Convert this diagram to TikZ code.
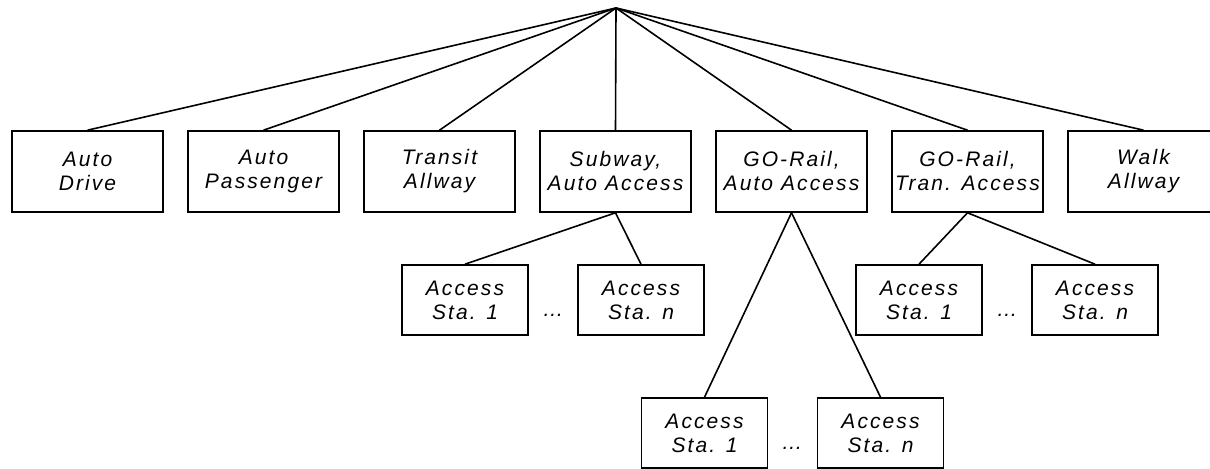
\documentclass[tikz,border=0pt]{standalone}
\usepackage{fontspec}
\setmainfont{Liberation Sans}[LetterSpace=10]
\usetikzlibrary{positioning}
\tikzset{
  box_font/.style = {font=\fontsize{10.5}{12}\selectfont\itshape},
  mode_box/.style = {box_font, draw, line width=0.8pt, align=center, minimum width=75.5pt, minimum height=40.5pt, inner sep=0},
  sta_box/.style = {box_font, draw, line width=0.8pt, align=center, minimum width=63pt, minimum height=35pt, inner sep=0},
  dots/.style = {box_font, inner sep=0},
  link/.style = {line width=0.8pt}
}
\begin{document}
\begin{tikzpicture}[x=0.5pt, y=0.5pt, node distance=11.7pt]
        \useasboundingbox (0,0) rectangle (1210,469);

        % Root
        \coordinate (root) at (616,461);

        % Modes
        \node[mode_box] (drive) at (87.5,297.5) {
            Auto\\Drive};
        \node[mode_box, right=of drive] (pass) {
            Auto\\Passenger};
        \node[mode_box, right=of pass] (transit) {
            Transit\\Allway};
        \node[mode_box, right=of transit] (subway) {
            Subway,\\Auto Access};
        \node[mode_box, right=of subway] (go_auto) {
            GO-Rail,\\Auto Access};
        \node[mode_box, right=of go_auto] (go_tran) {
            GO-Rail,\\Tran. Access};
        \node[mode_box, right=of go_tran] (walk) {
            Walk\\Allway};

        % Access stations
        \node[sta_box] at (465,169) (sub_1) {
            Access\\Sta. 1};
        \node[sta_box, right=24.2pt of sub_1] (sub_n) {
            Access\\Sta. n};
        \node[dots] at (553,154) (sub_dots) {\dots};

        \node[sta_box] at (919,169) (tran_1) {
            Access\\Sta. 1};
        \node[sta_box, right=24.2pt of tran_1] (tran_n) {
            Access\\Sta. n};
        \node[dots] at (1007,154) (tran_dots) {\dots};

        \node[sta_box] at (704.5,36) (auto_1) {
            Access\\Sta. 1};
        \node[sta_box, right=24.2pt of auto_1] (auto_n) {
            Access\\Sta. n};
        \node[dots] at (792,21) (auto_dots) {\dots};

        % Links
        \draw[link] (root)--(drive.north);
        \draw[link] (root)--(pass.north);
        \draw[link] (root)--(transit.north);
        \draw[link] (root)--(subway.north);
        \draw[link] (root)--(go_auto.north);
        \draw[link] (root)--(go_tran.north);
        \draw[link] (root)--(walk.north);

        \draw[link] (subway.south)--(sub_1.north);
        \draw[link] (subway.south)--(sub_n.north);
        \draw[link] (go_tran.south)--(tran_1.north);
        \draw[link] (go_tran.south)--(tran_n.north);
        \draw[link] (go_auto.south)--(auto_1.north);
        \draw[link] (go_auto.south)--(auto_n.north);
\end{tikzpicture}
\end{document}
